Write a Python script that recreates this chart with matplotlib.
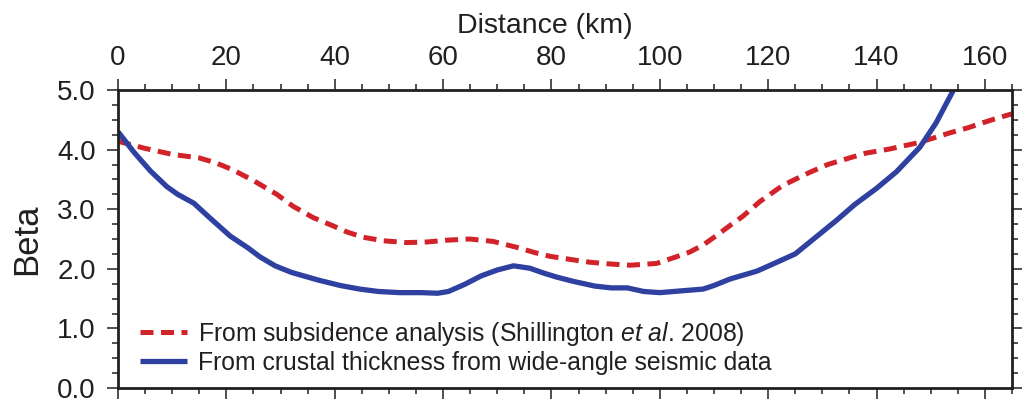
import matplotlib
matplotlib.use("Agg")
import matplotlib.pyplot as plt
from matplotlib.ticker import MultipleLocator

plt.rcParams['font.family'] = ['Liberation Sans', 'DejaVu Sans']
plt.rcParams['mathtext.fontset'] = 'custom'
plt.rcParams['mathtext.it'] = 'Liberation Sans:italic'
plt.rcParams['mathtext.rm'] = 'Liberation Sans'

# Crustal thickness (wide-angle seismic) beta
blue_x = [0, 3, 6, 9, 11, 14, 17, 20.7, 24, 26.2, 29, 32, 37, 41, 44.6, 48, 52, 56, 59, 61,
          64, 67, 70, 73, 76, 78.5, 81, 84, 88, 91, 94, 97, 100, 104, 108, 110, 113, 117.9,
          121.6, 125, 127.7, 130, 132.7, 136, 140, 143.7, 146, 148, 151, 154.2, 155]
blue_y = [4.30, 3.95, 3.64, 3.38, 3.25, 3.10, 2.85, 2.55, 2.35, 2.20, 2.05, 1.94, 1.81, 1.72,
          1.66, 1.62, 1.60, 1.60, 1.59, 1.62, 1.74, 1.88, 1.98, 2.05, 2.01, 1.93, 1.86, 1.79,
          1.71, 1.68, 1.68, 1.62, 1.60, 1.63, 1.66, 1.72, 1.83, 1.96, 2.11, 2.25, 2.45, 2.62,
          2.82, 3.08, 3.35, 3.63, 3.85, 4.04, 4.45, 5.00, 5.15]

# Subsidence analysis beta
red_x = [0, 5, 10, 15, 18, 21.2, 25, 29.3, 32.3, 36, 39.7, 42.2, 45.2, 49, 53.3, 57, 60.7,
         64.9, 69.2, 73.6, 77, 79.7, 84, 87.1, 91, 94.5, 99.4, 103, 105.5, 108, 110.5, 113,
         115.3, 118.5, 122.7, 127.7, 131, 135, 138, 142.4, 147.4, 150, 153.5, 157, 159.6,
         162, 165]
red_y = [4.14, 4.02, 3.92, 3.86, 3.78, 3.66, 3.48, 3.25, 3.05, 2.86, 2.72, 2.62, 2.53, 2.47,
         2.44, 2.45, 2.48, 2.50, 2.46, 2.36, 2.27, 2.21, 2.15, 2.11, 2.08, 2.06, 2.09, 2.20,
         2.28, 2.40, 2.56, 2.73, 2.88, 3.13, 3.40, 3.62, 3.75, 3.86, 3.94, 4.01, 4.11, 4.18,
         4.28, 4.37, 4.45, 4.52, 4.60]

label_red = 'From subsidence analysis (Shillington $\\it{et\\ al}$. 2008)'
label_blue = 'From crustal thickness from wide-angle seismic data'

fig = plt.figure(figsize=(10.22, 4.01), dpi=100)
ax = fig.add_axes([118/1022, 1 - 388/401, (1012 - 118)/1022, (388 - 90)/401])

red_c = '#D2222A'
blue_c = '#2E41A0'

ax.plot(red_x, red_y, color=red_c, lw=3.6, dashes=(2.6, 1.5), dash_capstyle='butt',
        label=label_red)
ax.plot(blue_x, blue_y, color=blue_c, lw=3.8, solid_capstyle='butt', label=label_blue)

ax.set_xlim(0, 165)
ax.set_ylim(0, 5)

ax.xaxis.set_major_locator(MultipleLocator(20))
ax.xaxis.set_minor_locator(MultipleLocator(5))
ax.yaxis.set_major_locator(MultipleLocator(1))
ax.yaxis.set_minor_locator(MultipleLocator(0.25))
ax.yaxis.set_major_formatter(matplotlib.ticker.FormatStrFormatter('%.1f'))

ax.tick_params(axis='x', which='both', direction='out', top=True, bottom=True,
               labeltop=True, labelbottom=False, labelsize=20, pad=6, width=1.1,
               colors='#231F20')
ax.tick_params(axis='y', which='both', direction='out', left=True, right=True,
               labelleft=True, labelright=False, labelsize=20, pad=8, width=1.1,
               colors='#231F20')
ax.tick_params(which='major', length=8)
ax.tick_params(which='minor', length=4)

for s in ax.spines.values():
    s.set_linewidth(2.0)
    s.set_color('#231F20')

ax.xaxis.set_label_position('top')
ax.set_xlabel('Distance (km)', fontsize=20.5, labelpad=8, color='#231F20')
ax.xaxis.label.set_x((545 - 118) / 894)
ax.set_ylabel('Beta', fontsize=25, labelpad=10, color='#231F20')

leg = ax.legend(loc='lower left', bbox_to_anchor=(0.025, 0.045), frameon=False,
                fontsize=17.8, handlelength=1.9, handletextpad=0.42, labelspacing=0.12,
                borderpad=0, borderaxespad=0)
for t in leg.get_texts():
    t.set_color('#231F20')

fig.savefig('out.png', dpi=100)
